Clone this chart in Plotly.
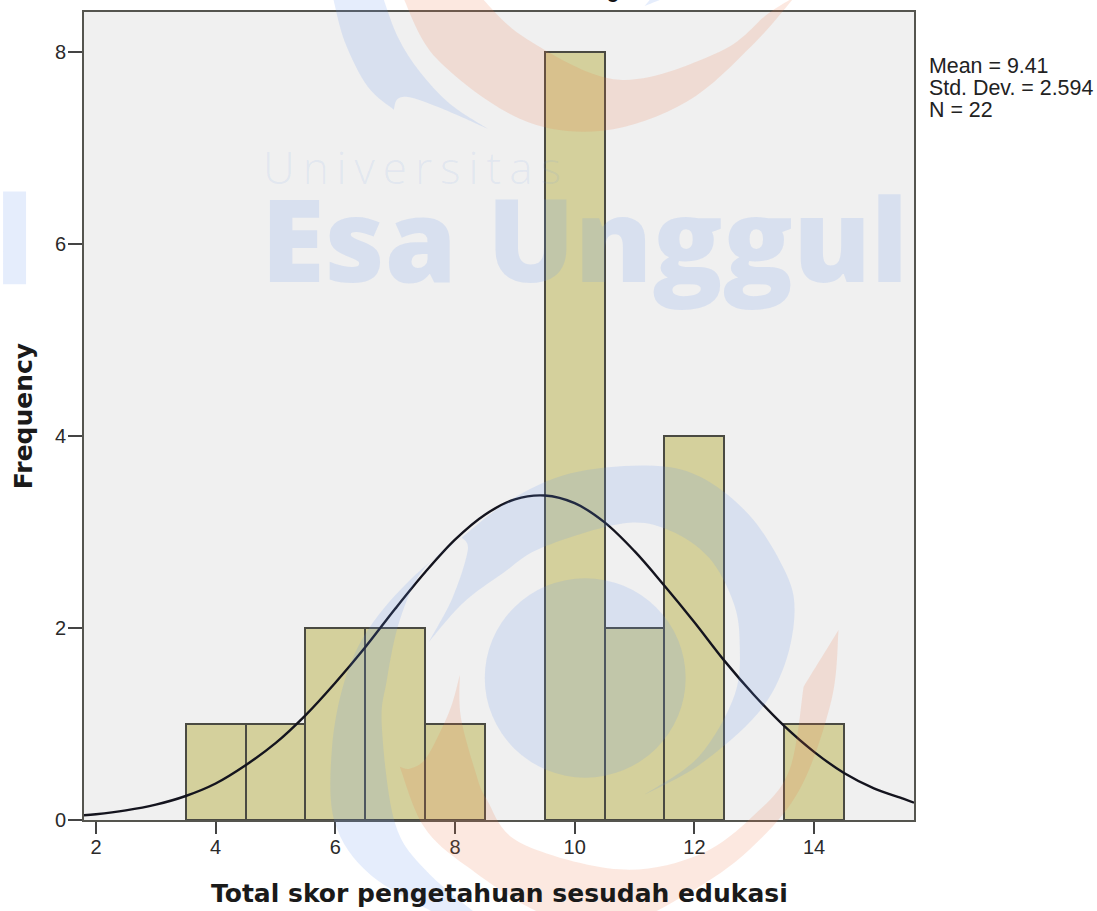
import plotly.graph_objects as go

# ---- data ----
bin_centers = [4, 5, 6, 7, 8, 10, 11, 12, 14]
frequencies = [1, 1, 2, 2, 1, 8, 2, 4, 1]
curve_x = [1.8, 2, 2.5, 3, 3.5, 4, 4.5, 5, 5.5, 6, 6.5, 7, 7.5, 8, 8.5, 9, 9.5,
           10, 10.5, 11, 11.5, 12, 12.5, 13, 13.5, 14, 14.5, 15, 15.5, 15.67]
curve_y = [0.05, 0.06, 0.10, 0.16, 0.25, 0.38, 0.57, 0.80, 1.09, 1.43, 1.80, 2.20, 2.58, 2.92, 3.18, 3.34, 3.38,
           3.30, 3.10, 2.80, 2.44, 2.06, 1.66, 1.30, 0.98, 0.71, 0.49, 0.33, 0.22, 0.18]
x_ticks = [2, 4, 6, 8, 10, 12, 14]
y_ticks = [0, 2, 4, 6, 8]
stats_lines = ["Mean = 9.41", "Std. Dev. = 2.594", "N = 22"]
x_title = "Total skor pengetahuan sesudah edukasi"
y_title = "Frequency"

# ---- page geometry (pixels) ----
W, H = 1097, 911
L, R, T, B = 84, 914.5, 10, 820.5
def px(x): return (x - L) / (R - L)
def py(y): return 1 - (y - T) / (B - T)

BLUE = "rgba(100,150,235,0.17)"
ORANGE = "rgba(235,120,70,0.17)"

def smooth(points):
    """Catmull-Rom through pixel points -> SVG cubic segments (no leading M)."""
    out = []
    n = len(points)
    for i in range(n - 1):
        p0 = points[i - 1] if i > 0 else points[i]
        p1, p2 = points[i], points[i + 1]
        p3 = points[i + 2] if i + 2 < n else p2
        c1 = (p1[0] + (p2[0] - p0[0]) / 6, p1[1] + (p2[1] - p0[1]) / 6)
        c2 = (p2[0] - (p3[0] - p1[0]) / 6, p2[1] - (p3[1] - p1[1]) / 6)
        out.append(f"C{px(c1[0]):.5f},{py(c1[1]):.5f} {px(c2[0]):.5f},{py(c2[1]):.5f} {px(p2[0]):.5f},{py(p2[1]):.5f}")
    return " ".join(out)

def outline(*segments):
    s = segments[0][0]
    d = f"M{px(s[0]):.5f},{py(s[1]):.5f} "
    d += " ".join(smooth(seg) for seg in segments)
    return d + " Z"

def shape(path, color):
    return dict(type="path", path=path, xref="paper", yref="paper", fillcolor=color,
                line=dict(width=0), layer="above")

# watermark logo outlines
top_blue = outline(
    [(333, -5), (345, 40), (368, 85), (394, 108)],
    [(394, 108), (398, 97), (412, 96), (445, 108), (488, 127)],
    [(488, 127), (450, 102), (420, 70), (398, 35), (383, -5)],
)
top_orange = outline(
    [(403, -5), (437, 57), (520, 117), (603, 129), (687, 100), (753, 43), (795, -5)],
    [(795, -5), (768, 12), (720, 50), (620, 78), (527, 37), (481, -5)],
)
swirl = outline(
    [(437, 915), (370, 875), (335, 823), (332, 750), (345, 680), (370, 627), (413, 577), (462, 537)],
    [(462, 537), (510, 500), (570, 473), (647, 465), (700, 476), (750, 515), (785, 570), (795, 610), (785, 665), (757, 715), (700, 765), (645, 795)],
    [(645, 795), (699, 757), (735, 695), (740, 640), (733, 600), (709, 557), (670, 530), (623, 523), (543, 547), (503, 573), (463, 603), (429, 642)],
    [(429, 642), (453, 597), (468, 550), (462, 537)],
    [(462, 537), (423, 570), (400, 620), (387, 680), (382, 727), (395, 823), (425, 870), (477, 915)],
)
low_orange = outline(
    [(400, 767), (410, 769), (425, 760), (440, 733), (452, 705), (460, 675)],
    [(460, 675), (461, 717), (475, 770), (487, 800), (520, 843), (620, 870), (700, 855), (755, 815), (790, 770), (804, 687)],
    [(804, 687), (839, 630)],
    [(839, 630), (832, 700), (800, 790), (750, 850), (690, 893), (620, 925), (544, 915), (467, 867), (424, 827), (400, 767)],
)
left_bar = outline([(3, 190), (26, 190)], [(26, 190), (26, 283)], [(26, 283), (3, 283)])
top_tip = outline([(645, 4), (660, -2)], [(660, -2), (650, -2)])
disc = dict(type="circle", xref="paper", yref="paper", x0=px(485), x1=px(686), y0=py(778), y1=py(578),
            fillcolor=BLUE, line=dict(width=0), layer="above")

fig = go.Figure()
fig.add_trace(go.Bar(x=bin_centers, y=frequencies, width=1,
                     marker=dict(color="#d4d09c", line=dict(color="#4a4a42", width=2))))
fig.add_trace(go.Scatter(x=curve_x, y=curve_y, mode="lines",
                         line=dict(color="#14141e", width=2.4, shape="spline", smoothing=1)))

annotations = [
    dict(text=t, x=px(928), y=py(64 + 22 * i), xref="paper", yref="paper", xanchor="left", yanchor="middle",
         showarrow=False, font=dict(family="Liberation Sans", size=21.4, color="#222222"))
    for i, t in enumerate(stats_lines)
]
annotations += [
    dict(text=x_title, x=px(500), y=py(894), xref="paper", yref="paper", xanchor="center", yanchor="middle",
         showarrow=False, font=dict(family="DejaVu Sans", size=25, weight=700, color="#1a1a1a")),
    dict(text='<span style="letter-spacing:8px">Universitas</span>', x=px(261), y=py(165), xref="paper", yref="paper",
         xanchor="left", yanchor="middle", showarrow=False,
         font=dict(family="Open Sans", size=44, weight=300, color="rgba(100,150,235,0.11)")),
    dict(text="Esa Unggul", x=px(259), y=py(236), xref="paper", yref="paper", xanchor="left", yanchor="middle",
         showarrow=False, font=dict(family="Open Sans", size=116, weight=800, color=BLUE)),
    dict(text="g", x=px(613), y=py(-11), xref="paper", yref="paper", xanchor="center", yanchor="middle",
         showarrow=False, font=dict(family="Liberation Sans", size=20, weight=700, color="#111111")),
]

fig.update_layout(
    width=W, height=H, autosize=False, showlegend=False, bargap=0,
    paper_bgcolor="white", plot_bgcolor="#f0f0f0",
    margin=dict(l=L, r=W - R, t=T, b=H - B, pad=0),
    shapes=[shape(p, BLUE) for p in (top_blue, swirl, left_bar, top_tip)] + [disc]
           + [shape(p, ORANGE) for p in (top_orange, low_orange)],
    annotations=annotations,
)
axis_common = dict(showgrid=False, zeroline=False, showline=True, linecolor="#55554f", linewidth=2, mirror=True,
                   ticks="outside", tickwidth=2, tickcolor="#444444",
                   tickfont=dict(family="Liberation Sans", size=20, color="#2a2a2a"))
fig.update_xaxes(range=[1.80, 15.67], tickvals=x_ticks, ticklen=12, ticklabelstandoff=-4, **axis_common)
fig.update_yaxes(range=[0, 8.416], tickvals=y_ticks, ticklen=14, ticklabelstandoff=-2,
                 title=dict(text=y_title, standoff=15, font=dict(family="DejaVu Sans", size=25, weight=700, color="#1a1a1a")),
                 **axis_common)

fig.write_html("out.html", config=dict(displayModeBar=False),
               post_script="document.body.style.margin='0';document.body.style.overflow='hidden';")
